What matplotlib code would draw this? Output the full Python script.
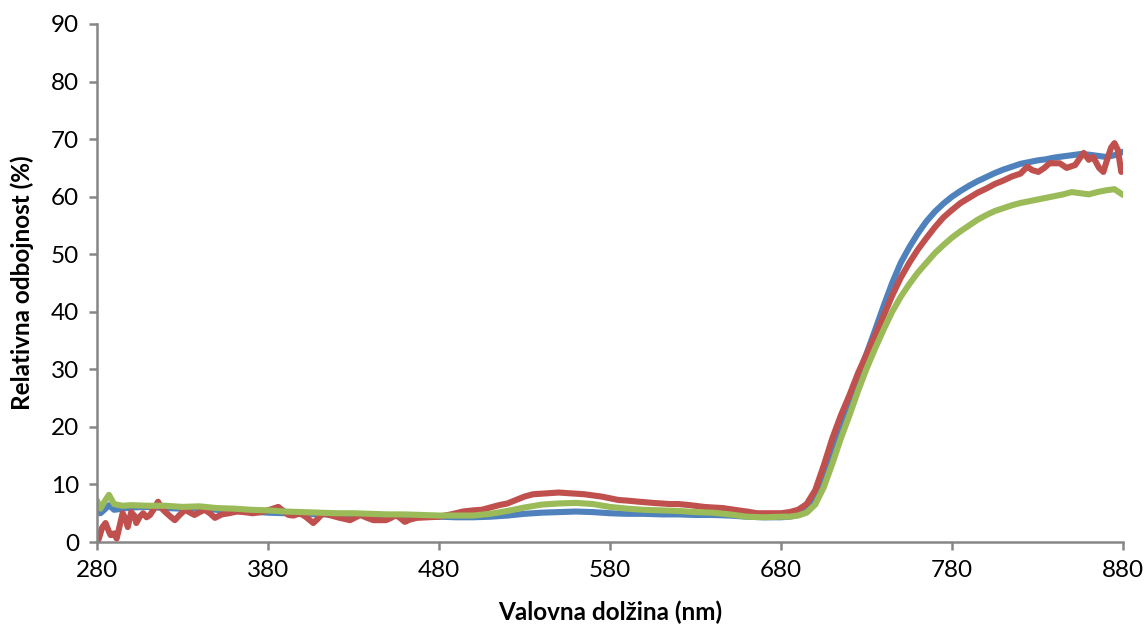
import numpy as np
import matplotlib.pyplot as plt

# reflectance spectra, wavelength in nm, reflectance in %
wl_bg = [280, 282, 285, 287, 290, 295, 300, 310, 320, 330, 340, 350, 360, 370, 380,
         390, 400, 410, 420, 430, 440, 450, 460, 470, 480, 490, 500, 510, 520, 530,
         540, 550, 560, 570, 580, 590, 600, 610, 620, 630, 640, 650, 660, 670, 680,
         685, 690, 695, 700, 705, 710, 715, 720, 725, 730, 735, 740, 745, 750, 755,
         760, 765, 770, 775, 780, 785, 790, 795, 800, 805, 810, 815, 820, 825, 830,
         835, 840, 845, 850, 855, 860, 865, 870, 875, 880]

blue = [5.2, 5.0, 5.8, 6.4, 5.6, 5.8, 6.0, 6.1, 5.9, 5.8, 5.9, 5.6, 5.4, 5.3, 5.1,
        5.0, 4.9, 4.8, 4.8, 4.7, 4.7, 4.6, 4.5, 4.4, 4.4, 4.3, 4.3, 4.4, 4.6, 4.9,
        5.1, 5.2, 5.3, 5.2, 5.0, 4.9, 4.9, 4.8, 4.8, 4.7, 4.7, 4.6, 4.4, 4.3, 4.3,
        4.4, 4.7, 5.6, 7.8, 12.0, 16.6, 20.8, 24.8, 28.8, 32.7, 36.8, 41.0, 45.0, 48.5, 51.2,
        53.6, 55.7, 57.4, 58.8, 60.0, 61.0, 61.9, 62.7, 63.4, 64.1, 64.7, 65.2, 65.7, 66.0, 66.3,
        66.5, 66.8, 67.0, 67.2, 67.4, 67.3, 67.1, 66.9, 67.2, 67.8]

green = [7.2, 5.8, 7.3, 8.2, 6.6, 6.3, 6.4, 6.3, 6.3, 6.1, 6.2, 5.9, 5.8, 5.6, 5.5,
         5.3, 5.2, 5.1, 5.0, 5.0, 4.9, 4.8, 4.8, 4.7, 4.6, 4.6, 4.6, 4.9, 5.4, 6.0,
         6.5, 6.7, 6.8, 6.6, 6.1, 5.8, 5.6, 5.5, 5.4, 5.2, 5.1, 4.8, 4.4, 4.3, 4.4,
         4.4, 4.6, 5.1, 6.5, 9.5, 13.6, 18.0, 22.0, 26.2, 30.1, 33.6, 36.9, 40.0, 42.6, 44.8,
         46.8, 48.5, 50.2, 51.6, 52.9, 54.0, 55.0, 56.0, 56.8, 57.5, 58.0, 58.5, 58.9, 59.2, 59.5,
         59.8, 60.1, 60.4, 60.8, 60.6, 60.4, 60.8, 61.1, 61.3, 60.3]

wl_red = [280, 281, 283, 285, 287, 288, 290, 291.5, 293, 295, 297, 298, 300, 302, 303,
          305, 307, 309, 311, 313, 315.7, 318, 320, 323, 325.5, 328, 331.5, 334, 337, 340,
          343, 346, 349, 353, 357, 362, 366, 371, 376, 381, 386, 389, 392, 395, 398.7,
          402, 406.5, 409, 412, 417, 422, 428, 434, 438, 441.6, 449, 452, 455, 458, 460,
          463, 467, 473, 480, 487, 494, 500, 505, 510, 515, 520, 525, 530, 535, 540,
          545, 550, 555, 560, 565, 570, 575, 580, 585, 590, 597, 605, 615, 620, 627,
          635, 640, 646, 655, 660, 666, 672, 680, 685, 690, 695, 700, 705, 710,
          715, 720, 725, 730, 735, 740, 745, 750, 755, 760, 765, 770, 775, 780, 785,
          790, 795, 800, 805, 810, 815, 820, 824, 827, 830.5, 834, 837, 843, 847, 852,
          855, 857, 860, 862.5, 866, 868.5, 871, 873, 875, 877, 879, 880]

red = [0.0, 0.5, 2.5, 3.3, 1.8, 1.2, 1.5, 0.6, 2.5, 5.0, 3.8, 2.6, 5.2, 4.5, 3.3,
       4.4, 5.0, 4.3, 4.7, 5.6, 7.0, 5.8, 5.2, 4.4, 3.8, 4.6, 5.6, 5.2, 4.7, 5.2,
       5.6, 5.0, 4.2, 4.8, 5.0, 5.3, 5.2, 5.0, 5.2, 5.6, 6.1, 5.4, 4.7, 4.6, 5.0,
       4.4, 3.3, 4.0, 5.0, 4.6, 4.2, 3.8, 4.7, 4.2, 3.8, 3.8, 4.2, 4.7, 4.0, 3.5,
       3.9, 4.2, 4.3, 4.4, 4.8, 5.3, 5.5, 5.6, 6.0, 6.4, 6.7, 7.3, 7.9, 8.3, 8.4,
       8.5, 8.6, 8.5, 8.4, 8.3, 8.1, 7.9, 7.6, 7.3, 7.2, 7.0, 6.8, 6.6, 6.6, 6.4,
       6.1, 6.0, 5.9, 5.5, 5.3, 5.0, 5.0, 5.0, 5.2, 5.6, 6.6, 9.0, 13.3, 18.0,
       22.0, 25.5, 29.3, 32.6, 35.9, 39.3, 42.8, 45.9, 48.5, 50.8, 52.8, 54.7, 56.4, 57.7, 58.9,
       59.8, 60.7, 61.4, 62.2, 62.8, 63.5, 64.0, 65.2, 64.6, 64.3, 65.0, 65.8, 65.8, 65.0, 65.5,
       66.8, 67.6, 66.4, 66.9, 65.0, 64.3, 66.7, 68.5, 69.3, 68.1, 64.3, 64.8]

plt.rcParams['font.family'] = ['Lato', 'DejaVu Sans']

fig = plt.figure(figsize=(11.45, 6.28), dpi=100)
ax = fig.add_axes([0.0847, 0.1369, 0.8961, 0.8249])

style = dict(lw=4.4, solid_capstyle='round', solid_joinstyle='round')
ax.plot(wl_bg, blue, color='#4F81BD', **style)
ax.plot(wl_red, red, color='#C0504D', **style)
ax.plot(wl_bg, green, color='#9BBB59', **style)

ax.set_xlim(280, 880)
ax.set_ylim(0, 90)
ax.set_xticks(np.arange(280, 881, 100))
ax.set_yticks(np.arange(0, 91, 10))

for s in ['top', 'right']:
    ax.spines[s].set_visible(False)
for s in ['left', 'bottom']:
    ax.spines[s].set_color('#868686')
    ax.spines[s].set_linewidth(1.8)
ax.tick_params(direction='out', length=6, width=1.8, color='#868686',
               labelsize=17.5, labelcolor='black', pad=7)

ax.set_xlabel('Valovna dolžina (nm)', fontsize=17.5, fontweight='bold', labelpad=14)
ax.set_ylabel('Relativna odbojnost (%)', fontsize=17.5, fontweight='bold', labelpad=12)

fig.savefig('out.png', dpi=100)
